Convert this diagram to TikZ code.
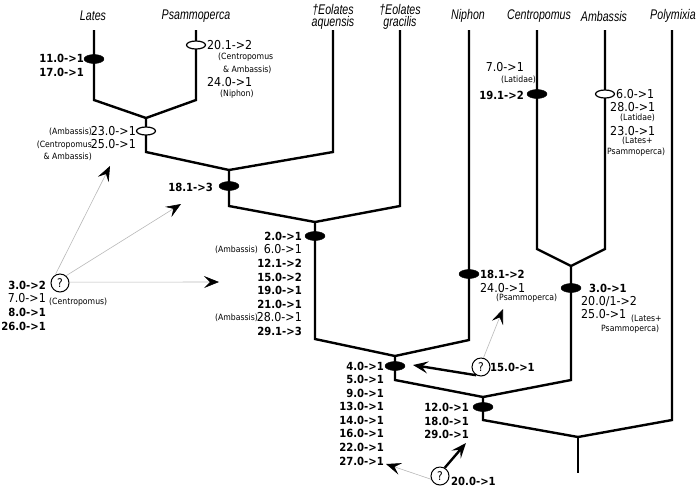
\documentclass[tikz,border=0pt]{standalone}
\usepackage{fontspec}
\setmainfont[FakeStretch=0.9]{DejaVu Sans}
\newfontfamily\taxfont[FakeStretch=0.76]{Liberation Sans}
\usetikzlibrary{arrows.meta,shapes.geometric}
\begin{document}
\begin{tikzpicture}[x=1pt,y=-1pt,
  branch/.style={line width=2.4pt,line cap=butt,line join=miter},
  taxon/.style={font=\taxfont\itshape\fontsize{14}{12.5}\selectfont,inner sep=0pt,align=center},
  bl/.style={font=\bfseries\fontsize{11.2}{13}\selectfont,inner sep=0pt},
  nl/.style={font=\fontsize{12.3}{14}\selectfont,inner sep=0pt},
  sl/.style={font=\fontsize{8.6}{10}\selectfont,inner sep=0pt},
  synf/.style={ellipse,fill=black,draw=black,minimum width=20pt,minimum height=9pt,inner sep=0pt},
  syno/.style={ellipse,fill=white,draw=black,line width=1.2pt,minimum width=19pt,minimum height=8pt,inner sep=0pt},
  qmark/.style={circle,draw=black,fill=white,line width=1pt,minimum size=18pt,inner sep=0pt,font=\fontsize{12}{12}\selectfont},
  hintarrow/.style={draw=black!28,line width=0.6pt,-{Stealth[length=15pt,width=12pt,inset=6pt,black]}},
  strongarrow/.style={line width=2.4pt,-{Stealth[length=15pt,width=12pt,inset=6pt]}}
]
\useasboundingbox (0,0) rectangle (698,491);

% taxa
\node[taxon] (tx1) at (93,16) {Lates};
\node[taxon] (tx2) at (196,16) {Psammoperca};
\node[taxon] (tx3) at (333,17) {†Eolates\\aquensis};
\node[taxon] (tx4) at (400,17) {†Eolates\\gracilis};
\node[taxon] (tx5) at (468,16) {Niphon};
\node[taxon] (tx6) at (539,16) {Centropomus};
\node[taxon] (tx7) at (604,16) {Ambassis};
\node[taxon] (tx8) at (673,16) {Polymixia};

% tree coordinates
\coordinate (lLates) at (94,30);  \coordinate (bLates) at (94,100);
\coordinate (lPsam) at (196,30);  \coordinate (bPsam) at (196,100);
\coordinate (n1) at (146,118);    \coordinate (n1b) at (146,152);
\coordinate (lEaq) at (333,30);   \coordinate (bEaq) at (333,152);
\coordinate (n2) at (229,170);    \coordinate (n2b) at (229,206);
\coordinate (lEgr) at (400,30);   \coordinate (bEgr) at (400,206);
\coordinate (n3) at (315,222);    \coordinate (n3b) at (315,339);
\coordinate (lNip) at (469,30);   \coordinate (bNip) at (469,340);
\coordinate (n4) at (395,356);    \coordinate (n4b) at (395,380);
\coordinate (lCen) at (537,30);   \coordinate (bCen) at (537,249);
\coordinate (lAmb) at (605,30);   \coordinate (bAmb) at (605,249);
\coordinate (n5) at (571,266);    \coordinate (n5b) at (571,380);
\coordinate (n6) at (483,397);    \coordinate (n6b) at (483,420);
\coordinate (lPol) at (672,30);   \coordinate (bPol) at (672,420);
\coordinate (root) at (578,437);  \coordinate (rootb) at (578,473);

\draw[branch] (lLates) -- (bLates) -- (n1) -- (bPsam) -- (lPsam);
\draw[branch] (n1) -- (n1b) -- (n2) -- (bEaq) -- (lEaq);
\draw[branch] (n2) -- (n2b) -- (n3) -- (bEgr) -- (lEgr);
\draw[branch] (n3) -- (n3b) -- (n4) -- (bNip) -- (lNip);
\draw[branch] (lCen) -- (bCen) -- (n5) -- (bAmb) -- (lAmb);
\draw[branch] (n4) -- (n4b) -- (n6) -- (n5b) -- (n5);
\draw[branch] (n6) -- (n6b) -- (root) -- (bPol) -- (lPol);
\draw[branch] (root) -- (rootb);

% markers
\node[synf] (m1) at (94,59) {};
\node[syno] (m2) at (196,45) {};
\node[syno] (m3) at (146,131) {};
\node[synf] (m4) at (229,186) {};
\node[synf] (m5) at (315,236) {};
\node[synf] (m6) at (469,274) {};
\node[synf] (m7) at (537,94) {};
\node[syno] (m8) at (605,94) {};
\node[synf] (m9) at (571,288) {};
\node[synf] (m10) at (395,366) {};
\node[synf] (m11) at (483,407) {};

% Lates
\node[bl,anchor=east] (a1) at (84,58) {11.0->1};
\node[bl,anchor=east] (a2) at (84,72) {17.0->1};
% Psammoperca
\node[nl,anchor=west] (b1) at (207,45) {20.1->2};
\node[sl,anchor=west] (b2) at (218,57) {(Centropomus};
\node[sl,anchor=west] (b3) at (223,70) {\&\ Ambassis)};
\node[nl,anchor=west] (b4) at (207,82) {24.0->1};
\node[sl,anchor=west] (b5) at (220,94) {(Niphon)};
% node 1
\node[nl,anchor=east] (c1) at (136,131) {23.0->1};
\node[sl,anchor=east] (c2) at (92,132) {(Ambassis)};
\node[nl,anchor=east] (c3) at (136,144) {25.0->1};
\node[sl,anchor=east] (c4) at (92,145) {(Centropomus};
\node[sl,anchor=east] (c5) at (92,157) {\&\ Ambassis)};
% node 2
\node[bl,anchor=east] (d1) at (213,187) {18.1->3};
% node 3 stack
\node[bl,anchor=east] (e1) at (302,236) {2.0->1};
\node[nl,anchor=east] (e2) at (302,249) {6.0->1};
\node[sl,anchor=east] (e2a) at (258,250) {(Ambassis)};
\node[bl,anchor=east] (e3) at (302,263) {12.1->2};
\node[bl,anchor=east] (e4) at (302,277) {15.0->2};
\node[bl,anchor=east] (e5) at (302,290) {19.0->1};
\node[bl,anchor=east] (e6) at (302,304) {21.0->1};
\node[nl,anchor=east] (e7) at (302,317) {28.0->1};
\node[sl,anchor=east] (e7a) at (258,318) {(Ambassis)};
\node[bl,anchor=east] (e8) at (302,331) {29.1->3};
% left question group
\node[qmark] (q1) at (60,283) {?};
\node[bl,anchor=east] (f1) at (46,285) {3.0->2};
\node[nl,anchor=east] (f2) at (46,298) {7.0->1};
\node[bl,anchor=east] (f3) at (46,312) {8.0->1};
\node[bl,anchor=east] (f4) at (46,326) {26.0->1};
\node[sl,anchor=west] (f5) at (49,302) {(Centropomus)};
\coordinate (ta1) at (110,166);
\coordinate (ta2) at (181,204);
\coordinate (ta3) at (219,282);
\draw[hintarrow] (q1.120) -- (ta1);
\draw[hintarrow] (q1.50) -- (ta2);
\draw[hintarrow] (q1.5) -- (ta3);
% Niphon
\node[bl,anchor=west] (g1) at (480,274) {18.1->2};
\node[nl,anchor=west] (g2) at (480,288) {24.0->1};
\node[sl,anchor=west] (g3) at (496,298) {(Psammoperca)};
% Centropomus
\node[nl,anchor=east] (h1) at (524,67) {7.0->1};
\node[sl,anchor=east] (h2) at (536,80) {(Latidae)};
\node[bl,anchor=east] (h3) at (524,95) {19.1->2};
% Ambassis
\node[nl,anchor=west] (i1) at (616,94) {6.0->1};
\node[nl,anchor=west] (i2) at (610,107) {28.0->1};
\node[sl,anchor=west] (i3) at (620,118) {(Latidae)};
\node[nl,anchor=west] (i4) at (610,131) {23.0->1};
\node[sl,anchor=west] (i5) at (622,141) {(Lates+};
\node[sl,anchor=west] (i6) at (607,152) {Psammoperca)};
% Centropomus+Ambassis
\node[bl,anchor=west] (j1) at (589,288) {3.0->1};
\node[nl,anchor=west] (j2) at (581,301) {20.0/1->2};
\node[nl,anchor=west] (j3) at (581,314) {25.0->1};
\node[sl,anchor=west] (j4) at (631,319) {(Lates+};
\node[sl,anchor=west] (j5) at (601,329) {Psammoperca)};
% node 4 stack
\node[bl,anchor=east] (k1) at (384,366) {4.0->1};
\node[bl,anchor=east] (k2) at (384,379) {5.0->1};
\node[bl,anchor=east] (k3) at (384,393) {9.0->1};
\node[bl,anchor=east] (k4) at (384,406) {13.0->1};
\node[bl,anchor=east] (k5) at (384,420) {14.0->1};
\node[bl,anchor=east] (k6) at (384,433) {16.0->1};
\node[bl,anchor=east] (k7) at (384,447) {22.0->1};
\node[bl,anchor=east] (k8) at (384,461) {27.0->1};
% node 6 stack
\node[bl,anchor=east] (l1) at (469,407) {12.0->1};
\node[bl,anchor=east] (l2) at (469,421) {18.0->1};
\node[bl,anchor=east] (l3) at (469,434) {29.0->1};
% question 2
\node[qmark] (q2) at (481,367) {?};
\node[bl,anchor=west] (q2l) at (490,367) {15.0->1};
\coordinate (tb1) at (503,309);
\coordinate (tb2) at (413,365);
\draw[hintarrow] (q2.75) -- (tb1);
\draw[strongarrow] (q2.240) -- (tb2);
% question 3
\node[qmark] (q3) at (440,476) {?};
\node[bl,anchor=west] (q3l) at (451,481) {20.0->1};
\coordinate (tc1) at (466,443);
\coordinate (tc2) at (386,464);
\draw[strongarrow] (q3.60) -- (tc1);
\draw[hintarrow] (q3.200) -- (tc2);
\end{tikzpicture}
\end{document}
